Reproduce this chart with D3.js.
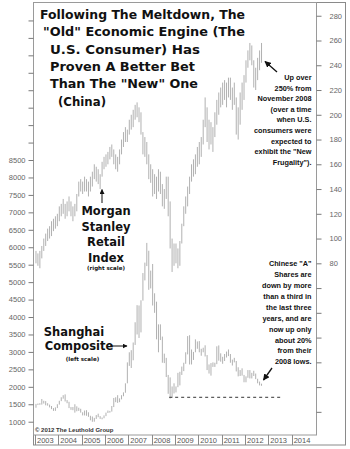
<!DOCTYPE html>
<html>
<head>
<meta charset="utf-8">
<script src="https://cdn.jsdelivr.net/npm/d3@7/dist/d3.min.js"></script>
<style>
  body { margin: 0; background: #fff; }
  svg { display: block; }
</style>
</head>
<body>
<div id="chart"></div>
<script>
// monthly bars, Jan 2003 .. Sep 2012
const startYear = 2003;

// Shanghai Composite (left scale), monthly low / high
const shLow = [
  1400,1480,1485,1490,1520,1470,1460,1410,1360,1310,1310,1390,
  1490,1590,1660,1580,1530,1390,1340,1330,1260,1300,1310,1260,
  1180,1180,1170,1140,1040,998,1000,1080,1130,1080,1070,1100,
  1160,1250,1260,1290,1420,1560,1540,1560,1640,1730,1830,2100,
  2600,2540,2760,3200,3500,3400,3560,4470,5050,5460,4780,4820,
  4330,4120,3360,2990,3340,2690,2680,2280,1800,1664,1680,1810,
  1840,1990,2040,2340,2450,2660,2930,2640,2640,2770,2990,3090,
  2990,2890,2990,2870,2480,2380,2320,2570,2570,2650,2750,2720,
  2660,2740,2840,2880,2690,2610,2700,2440,2300,2310,2320,2130,
  2130,2260,2240,2240,2310,2220,2100,2040,2030
];
const shHigh = [
  1510,1520,1530,1650,1600,1590,1530,1490,1450,1390,1410,1500,
  1600,1700,1760,1783,1620,1570,1420,1420,1500,1440,1400,1370,
  1270,1320,1330,1270,1170,1150,1110,1190,1230,1160,1120,1180,
  1260,1320,1310,1450,1680,1700,1760,1670,1760,1840,2100,2700,
  2990,3050,3270,3850,4340,4330,4480,5260,5560,6124,5900,5330,
  5520,4680,4440,3790,3790,3440,2950,2830,2340,2270,2010,2100,
  2010,2400,2430,2580,2690,2990,3454,3478,3070,3000,3360,3300,
  3310,3090,3120,3190,2910,2640,2680,2700,2690,3160,3186,2960,
  2860,2940,3010,3070,2940,2780,2830,2740,2560,2480,2530,2340,
  2300,2480,2480,2400,2460,2380,2230,2150,2090
];

// Morgan Stanley Retail Index (right scale), monthly low / high
const rtLow = [
  80,78,76,84,90,94,98,100,102,106,108,110,
  114,118,120,116,118,122,118,114,118,122,134,138,
  136,138,138,134,138,142,148,146,144,140,150,156,
  158,160,164,166,160,156,154,160,168,174,178,178,
  184,188,190,196,198,194,184,168,166,160,148,145,
  134,136,132,138,136,126,124,132,118,92,73,78,
  80,76,78,96,110,120,126,136,146,150,152,158,
  160,166,176,190,178,172,176,170,182,192,200,206,
  208,212,206,214,212,204,208,184,180,192,204,212,
  226,238,244,240,222,220,228,236,242
];
const rtHigh = [
  90,88,90,94,100,104,108,110,114,116,118,120,
  126,128,132,128,130,134,130,126,128,136,146,148,
  146,150,148,146,150,154,160,158,156,152,162,166,
  168,170,174,176,172,168,166,172,180,186,190,188,
  196,200,204,208,210,206,202,186,182,178,168,160,
  156,152,150,156,154,144,140,150,150,130,100,96,
  96,92,98,112,126,134,142,150,160,164,168,174,
  178,182,196,214,206,196,194,190,202,212,218,222,
  226,228,226,230,230,222,226,214,206,218,226,232,
  244,252,258,256,244,238,246,252,258
];

const years = [2003,2004,2005,2006,2007,2008,2009,2010,2011,2012,2013,2014];
const leftLabels = [1000,1500,2000,2500,3000,3500,4000,4500,5000,5500,6000,6500,7000,7500,8000,8500];
const rightLabels = [80,100,120,140,160,180,200,220,240,260,280];
const lowLine = {value: 1700, from: 2008.75, to: 2013.55};

const titleLines = [
  'Following The Meltdown, The',
  '"Old" Economic Engine (The',
  'U.S. Consumer) Has',
  'Proven A Better Bet',
  'Than The "New" One',
  '(China)'
];
const usNote = ['Up over', '250% from', 'November 2008', '(over a time', 'when U.S.',
  'consumers were', 'expected to', 'exhibit the "New', 'Frugality").'];
const chinaNote = ['Chinese "A"', 'Shares are', 'down by more', 'than a third in', 'the last three',
  'years, and are', 'now up only', 'about 20%', 'from their', '2008 lows.'];

const W = 350, H = 449;
const plot = {left: 33, right: 316, top: 3, bottom: 435};

const svg = d3.select('#chart').append('svg')
  .attr('width', W).attr('height', H);

const x = d3.scaleLinear().domain([2003, 2015]).range([35, 315]);
const yL = d3.scaleLinear().domain([619, 13000]).range([plot.bottom, plot.top]);
const yR = d3.scaleLinear().domain([-58.7, 290.3]).range([plot.bottom, plot.top]);
const tMonth = i => startYear + (i + 0.5) / 12;

// frames
svg.append('rect')
  .attr('x', plot.left + 0.5).attr('y', plot.top - 0.5)
  .attr('width', 345 - plot.left).attr('height', 445.5 - plot.top)
  .attr('fill', 'none').attr('stroke', '#8a8a8a');
svg.append('rect')
  .attr('x', plot.left + 0.5).attr('y', plot.top - 0.5)
  .attr('width', plot.right - plot.left).attr('height', plot.bottom - plot.top + 0.5)
  .attr('fill', 'none').attr('stroke', '#9a9a9a');

// left axis
const leftG = svg.append('g').attr('transform', 'translate(' + (plot.left + 0.5) + ',0)');
leftG.call(d3.axisLeft(yL).tickValues(d3.range(700, 13000, 100)).tickSize(2).tickFormat(''));
leftG.call(d3.axisLeft(yL).tickValues(d3.range(1000, 13000, 500)).tickSize(5)
  .tickFormat(d => leftLabels.includes(d) ? d : ''));
// right axis
const rightG = svg.append('g').attr('transform', 'translate(' + (plot.right + 0.5) + ',0)');
rightG.call(d3.axisRight(yR).tickValues(d3.range(-50, 291, 10)).tickSize(2.5).tickFormat(''));
rightG.call(d3.axisRight(yR).tickValues(d3.range(-40, 291, 20)).tickSize(5)
  .tickFormat(d => rightLabels.includes(d) ? d : ''));
svg.selectAll('.domain').remove();
svg.selectAll('.tick line').attr('stroke', '#7a7a7a');
svg.selectAll('.tick text')
  .attr('fill', '#666')
  .style('font-family', 'Liberation Sans, Arial, sans-serif')
  .style('font-size', '7.5px');
leftG.selectAll('.tick text').attr('x', -8);
rightG.selectAll('.tick text').attr('x', 13);

// year band
const yearG = svg.append('g');
yearG.selectAll('line').data(years).enter().append('line')
  .attr('x1', d => Math.round(x(d)) + 0.5).attr('x2', d => Math.round(x(d)) + 0.5)
  .attr('y1', plot.bottom).attr('y2', 445)
  .attr('stroke', '#8a8a8a');
yearG.selectAll('text').data(years).enter().append('text')
  .attr('x', d => x(d) + 2).attr('y', 443)
  .attr('fill', '#555')
  .style('font-family', 'Liberation Sans, Arial, sans-serif')
  .style('font-size', '7.5px')
  .text(d => d);

// bars
function drawBars(lows, highs, y, cls) {
  svg.append('g').attr('class', cls)
    .selectAll('line').data(lows).enter().append('line')
    .attr('x1', (d, i) => x(tMonth(i))).attr('x2', (d, i) => x(tMonth(i)))
    .attr('y1', d => y(d)).attr('y2', (d, i) => y(highs[i]))
    .attr('stroke', '#a8a8a8').attr('stroke-width', 0.9);
}
drawBars(rtLow, rtHigh, yR, 'retail');
drawBars(shLow, shHigh, yL, 'shanghai');

// 2008 low dashed line
svg.append('line')
  .attr('x1', x(lowLine.from)).attr('x2', x(lowLine.to))
  .attr('y1', yL(lowLine.value)).attr('y2', yL(lowLine.value))
  .attr('stroke', '#333').attr('stroke-width', 1).attr('stroke-dasharray', '3,3');

// title
const titleX = [40, 43, 50, 50, 50, 58];
const titleW = [205, 202, 150, 145, 148, 48];
svg.append('g').selectAll('text').data(titleLines).enter().append('text')
  .attr('x', (d, i) => titleX[i]).attr('y', (d, i) => 19 + i * 17.3)
  .attr('textLength', (d, i) => titleW[i]).attr('lengthAdjust', 'spacingAndGlyphs')
  .attr('fill', '#111')
  .style('font-family', 'DejaVu Sans, sans-serif')
  .style('font-weight', 'bold')
  .style('font-size', '12.5px')
  .text(d => d);

// notes
function note(lines, xr, y0, step) {
  svg.append('g').selectAll('text').data(lines).enter().append('text')
    .attr('x', xr).attr('y', (d, i) => y0 + i * step)
    .attr('text-anchor', 'end')
    .attr('fill', '#111')
    .style('font-family', 'Liberation Sans, Arial, sans-serif')
    .style('font-weight', 'bold')
    .style('font-size', '7.3px')
    .text(d => d);
}
note(usNote, 311.5, 80, 10.6);
note(chinaNote, 311.5, 266, 10.93);

// series labels
function label(txt, cx, y, size) {
  svg.append('text').attr('x', cx).attr('y', y)
    .attr('text-anchor', 'middle').attr('fill', '#111')
    .style('font-family', 'DejaVu Sans, sans-serif')
    .style('font-weight', 'bold')
    .style('font-size', size + 'px')
    .text(txt);
}
['Morgan', 'Stanley', 'Retail', 'Index'].forEach((t, i) => label(t, 106, 215 + i * 15.5, 11.5));
label('(right scale)', 106, 270, 5.5);
label('Shanghai', 74, 336, 11.5);
label('Composite', 79, 350, 11.5);
label('(left scale)', 82.5, 360.5, 5.5);

svg.append('text').attr('x', 35).attr('y', 432)
  .attr('fill', '#333')
  .style('font-family', 'Liberation Sans, Arial, sans-serif')
  .style('font-weight', 'bold').style('font-size', '6px')
  .text('\u00a9 2012 The Leuthold Group');

// arrows
svg.append('defs').append('marker')
  .attr('id', 'head').attr('viewBox', '0 0 10 10')
  .attr('refX', 9).attr('refY', 5)
  .attr('markerWidth', 5).attr('markerHeight', 5)
  .attr('orient', 'auto-start-reverse')
  .append('path').attr('d', 'M0,0L10,5L0,10z').attr('fill', '#111');
function arrow(x1, y1, x2, y2, w) {
  svg.append('line')
    .attr('x1', x1).attr('y1', y1).attr('x2', x2).attr('y2', y2)
    .attr('stroke', '#111').attr('stroke-width', w)
    .attr('marker-end', 'url(#head)');
}
arrow(277, 72, 265, 61.5, 1.3);
arrow(272, 368, 263.5, 380, 1.3);
arrow(102, 203, 102, 189.5, 1);
arrow(110, 346, 127, 346, 1);
</script>
</body>
</html>
